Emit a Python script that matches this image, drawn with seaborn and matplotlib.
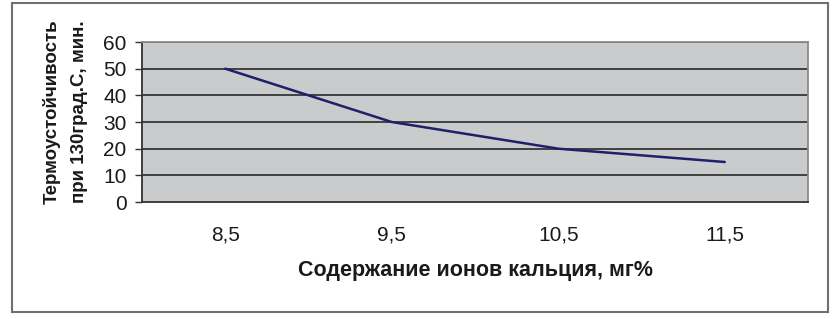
import matplotlib
matplotlib.use("Agg")
import matplotlib.pyplot as plt
import seaborn as sns
import pandas as pd
from matplotlib.patches import Rectangle

categories = ["8,5", "9,5", "10,5", "11,5"]
values = [50, 30, 20, 15]
y_ticks = [0, 10, 20, 30, 40, 50, 60]

sns.set_style("white")
plt.rcParams['font.family'] = ['Liberation Sans', 'DejaVu Sans']

df = pd.DataFrame({"pos": range(len(categories)), "val": values})

fig = plt.figure(figsize=(8.36, 3.19), dpi=100)
W, H = 836, 319
ax = fig.add_axes([142 / W, 1 - 202 / H, (808 - 142) / W, (202 - 42) / H])
ax.set_facecolor("#c9cbcc")

for y in y_ticks[1:]:
    ax.axhline(y, color="#2a2a2a", lw=1.2, zorder=1)

sns.lineplot(data=df, x="pos", y="val", ax=ax, color="#1f1f6b", lw=1.8, zorder=3)

ax.set_xlim(-0.5, len(categories) - 0.5)
ax.set_ylim(0, 60)
ax.set_yticks(y_ticks)
ax.set_yticklabels([str(v) for v in y_ticks], fontsize=15, color="#1a1a1a")
ax.set_xticks(range(len(categories)))
ax.set_xticklabels(categories, fontsize=15, color="#1a1a1a")
ax.tick_params(axis="x", which="major", length=0, pad=17)
ax.set_xticks([i - 0.5 for i in range(len(categories) + 1)], minor=True)
ax.tick_params(axis="x", which="minor", length=5, width=1, color="#333333", direction="out")
ax.tick_params(axis="y", which="major", length=5, width=1, color="#333333", direction="out", pad=6, left=True)

for s in ["left", "bottom"]:
    ax.spines[s].set_color("#333333")
    ax.spines[s].set_linewidth(1.3)
for s in ["top", "right"]:
    ax.spines[s].set_color("#8a8a8a")
    ax.spines[s].set_linewidth(1.3)
    ax.spines[s].set_visible(True)

ax.set_xlabel("Содержание ионов кальция, мг%", fontsize=15.5, fontweight="bold", labelpad=11, color="#1a1a1a")
ax.set_ylabel("Термоустойчивость\nпри 130град.С, мин.", fontsize=13.5, fontweight="bold", color="#1a1a1a", linespacing=1.75)
ax.yaxis.set_label_coords((88 - 142) / 666, (202 - 112) / 160)

fig.patches.append(Rectangle((12 / W, 1 - 312 / H), (828 - 12) / W, (312 - 3) / H,
                             transform=fig.transFigure, fill=False, edgecolor="#707070", lw=1.5))

fig.savefig("out.png", dpi=100, facecolor="white")
